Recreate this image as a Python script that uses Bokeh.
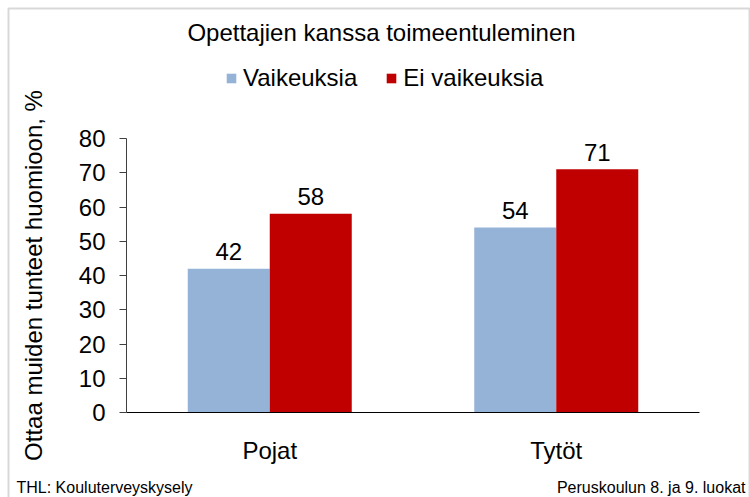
import math
from bokeh.plotting import figure
from bokeh.models import (ColumnDataSource, Range1d, Label, LabelSet, BoxAnnotation,
                          Legend, LegendItem, FixedTicker)
from bokeh.core.properties import value
from bokeh.embed import file_html
from bokeh.resources import INLINE

categories = ["Pojat", "Tytöt"]
vaikeuksia = [42, 54]
ei_vaikeuksia = [58, 71]
series_names = ["Vaikeuksia", "Ei vaikeuksia"]
y_ticks = [0, 10, 20, 30, 40, 50, 60, 70, 80]

title_text = "Opettajien kanssa toimeentuleminen"
y_label = "Ottaa muiden tunteet huomioon, %"
footer_left = "THL: Kouluterveyskysely"
footer_right = "Peruskoulun 8. ja 9. luokat"

FONT = "Liberation Sans"
BLUE = "#95B3D7"
RED = "#C00000"
W, H = 750, 497

# pixel geometry of the plotting area (inside canvas)
FL, FR, FT, FB = 126, 699, 138, 412
ncat = len(categories)
YMAX = 80
px_x = (FR - FL) / ncat
px_y = (FB - FT) / YMAX


def ux(px):
    return (px - FL) / px_x


def vy(py):
    return (FB - py) / px_y


bw = 82 / px_x
centers = [i + 0.5 for i in range(ncat)]
src = ColumnDataSource(dict(
    xv=[c - bw / 2 for c in centers], xe=[c + bw / 2 for c in centers],
    v=vaikeuksia, e=ei_vaikeuksia,
    vl=[str(x) for x in vaikeuksia], el=[str(x) for x in ei_vaikeuksia]))

p = figure(x_range=Range1d(ux(0), ux(W)), y_range=Range1d(vy(H), vy(0)),
           width=W, height=H, output_backend="svg", toolbar_location=None,
           min_border=0)
p.min_border_left = p.min_border_right = p.min_border_top = p.min_border_bottom = 0

r1 = p.vbar(x="xv", top="v", width=bw, source=src, fill_color=BLUE, line_color=None)
r2 = p.vbar(x="xe", top="e", width=bw, source=src, fill_color=RED, line_color=None)

for xc, col, lab in (("xv", "v", "vl"), ("xe", "e", "el")):
    p.add_layout(LabelSet(x=xc, y=col, text=lab, source=src, text_align="center",
                          text_baseline="middle", y_offset=17,
                          text_font=value(FONT), text_font_size="24px",
                          text_color="black"))

p.xgrid.visible = False
p.ygrid.visible = False
p.outline_line_color = None
p.background_fill_color = "white"
p.border_fill_color = "white"

ya = p.yaxis[0]
ya.fixed_location = 0
ya.bounds = (0, YMAX)
ya.ticker = FixedTicker(ticks=y_ticks)
ya.major_label_text_font = FONT
ya.major_label_text_font_size = "24px"
ya.major_label_text_color = "black"
ya.major_tick_out = 7
ya.major_tick_in = 0
ya.minor_tick_out = 0
ya.minor_tick_in = 0
ya.major_label_standoff = 14
ya.axis_line_color = "#404040"
ya.major_tick_line_color = "#404040"
ya.axis_label = y_label
ya.axis_label_text_font = FONT
ya.axis_label_text_font_size = "24px"
ya.axis_label_text_font_style = "normal"
ya.axis_label_text_color = "black"
ya.axis_label_standoff = 29

xa = p.xaxis[0]
xa.fixed_location = 0
xa.bounds = (0, ncat)
xa.ticker = FixedTicker(ticks=centers)
xa.major_label_overrides = {c: name for c, name in zip(centers, categories)}
xa.major_label_text_font = FONT
xa.major_label_text_font_size = "24px"
xa.major_label_text_color = "black"
xa.major_tick_out = 0
xa.major_tick_in = 0
xa.minor_tick_out = 0
xa.minor_tick_in = 0
xa.major_label_standoff = 24
xa.axis_line_color = "black"

p.add_layout(BoxAnnotation(left=ux(8), right=ux(749), top=vy(8), bottom=vy(H + 20),
                           fill_alpha=0, line_color="#7f7f7f", line_width=2))

p.add_layout(Label(x=ux(381), y=vy(31.5), text=title_text, text_align="center",
                   text_baseline="middle", text_font=FONT, text_font_size="24px",
                   text_color="black"))
p.add_layout(Label(x=ux(16), y=vy(487), text=footer_left, text_align="left",
                   text_baseline="middle", text_font=FONT, text_font_size="16px",
                   text_color="black"))
p.add_layout(Label(x=ux(745), y=vy(487), text=footer_right, text_align="right",
                   text_baseline="middle", text_font=FONT, text_font_size="16px",
                   text_color="black"))

legend = Legend(items=[LegendItem(label=series_names[0], renderers=[r1]),
                       LegendItem(label=series_names[1], renderers=[r2])],
                orientation="horizontal", location=(225, H - 92),
                glyph_width=12, glyph_height=12, label_standoff=6, spacing=28,
                padding=0, margin=0, border_line_color=None,
                background_fill_alpha=0, label_text_font=FONT,
                label_text_font_size="24px", label_text_color="black")
p.add_layout(legend, "center")

open("out.html", "w").write(file_html(p, INLINE))
